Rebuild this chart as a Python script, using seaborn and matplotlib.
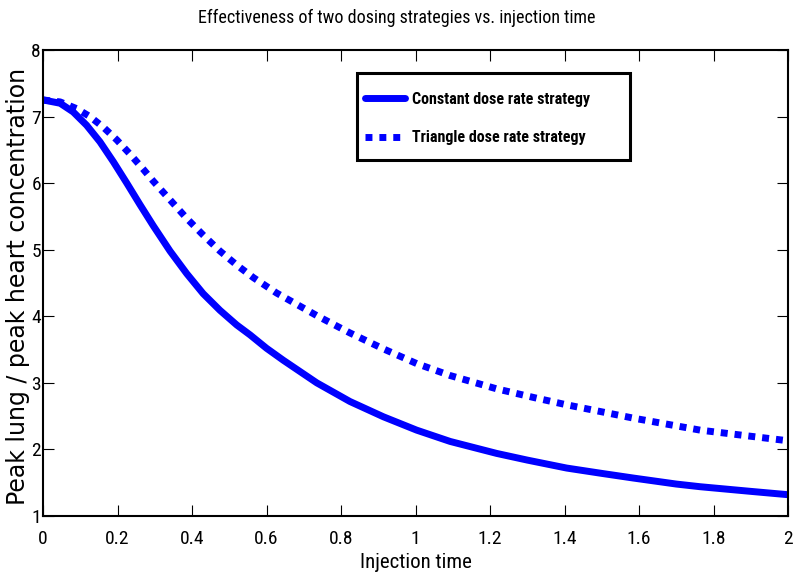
import matplotlib
matplotlib.use("Agg")
import matplotlib.pyplot as plt
from matplotlib.patches import Rectangle
import seaborn as sns
import pandas as pd

# Data
x_const = [0.0, 0.046, 0.081, 0.117, 0.153, 0.189, 0.225, 0.26, 0.296, 0.341, 0.386, 0.43,
           0.475, 0.52, 0.556, 0.60, 0.645, 0.735, 0.824, 0.914, 1.003, 1.093, 1.218, 1.30,
           1.406, 1.50, 1.585, 1.70, 1.764, 1.90, 2.0]
y_const = [7.25, 7.20, 7.07, 6.87, 6.62, 6.32, 6.00, 5.68, 5.36, 4.98, 4.64, 4.34,
           4.09, 3.87, 3.72, 3.52, 3.34, 3.00, 2.72, 2.49, 2.29, 2.12, 1.94, 1.84,
           1.72, 1.64, 1.57, 1.48, 1.44, 1.37, 1.32]

x_tri = [0.0, 0.046, 0.09, 0.126, 0.162, 0.198, 0.233, 0.269, 0.296, 0.336, 0.386, 0.43,
         0.475, 0.52, 0.565, 0.627, 0.735, 0.824, 0.914, 1.003, 1.093, 1.218, 1.325,
         1.406, 1.585, 1.764, 2.0]
y_tri = [7.25, 7.22, 7.12, 7.00, 6.84, 6.65, 6.44, 6.21, 6.03, 5.78, 5.47, 5.22,
         4.98, 4.77, 4.58, 4.35, 4.01, 3.75, 3.51, 3.29, 3.11, 2.91, 2.77,
         2.67, 2.47, 2.29, 2.13]

series_names = ["Constant dose rate strategy", "Triangle dose rate strategy"]
x_ticks = [0, 0.2, 0.4, 0.6, 0.8, 1, 1.2, 1.4, 1.6, 1.8, 2]
x_tick_labels = ["0", "0.2", "0.4", "0.6", "0.8", "1", "1.2", "1.4", "1.6", "1.8", "2"]
y_ticks = [1, 2, 3, 4, 5, 6, 7, 8]
y_tick_labels = ["1", "2", "3", "4", "5", "6", "7", "8"]

title = "Effectiveness of two dosing strategies vs. injection time"
xlabel = "Injection time"
ylabel = "Peak lung / peak heart concentration"

sns.set_style("ticks")
narrow = ["Roboto Condensed", "Liberation Sans", "DejaVu Sans"]
wide = ["DejaVu Sans"]
plt.rcParams["font.family"] = narrow
for k in ["text.color", "axes.labelcolor", "xtick.color", "ytick.color"]:
    plt.rcParams[k] = "black"

df = pd.concat([
    pd.DataFrame({"t": x_const, "v": y_const, "s": series_names[0]}),
    pd.DataFrame({"t": x_tri, "v": y_tri, "s": series_names[1]}),
], ignore_index=True)

fig = plt.figure(figsize=(7.93, 5.74), dpi=100)
ax = fig.add_axes([43 / 793, 1 - 516 / 574, 745 / 793, 466 / 574])

sns.lineplot(data=df, x="t", y="v", hue="s", style="s",
             palette=["#0000ff", "#0000ff"],
             dashes=[(None, None), (1, 1)],
             linewidth=5, ax=ax, legend=True, estimator=None, sort=False)

for line in ax.get_lines():
    line.set_dash_capstyle("butt")
    line.set_solid_joinstyle("round")

ax.set_xlim(0, 2)
ax.set_ylim(1, 8)
ax.set_xticks(x_ticks)
ax.set_xticklabels(x_tick_labels)
ax.set_yticks(y_ticks)
ax.set_yticklabels(y_tick_labels)
ax.tick_params(direction="in", length=8, width=0.8, top=True, right=True,
               labelsize=14, colors="black")
ax.tick_params(axis="x", pad=10)
ax.tick_params(axis="y", pad=1.5)
for sp in ax.spines.values():
    sp.set_visible(True)
    sp.set_color("black")
    sp.set_linewidth(1.5)

fig.text(396.5 / 793, 1 - 18 / 574, title, fontsize=13, ha="center", va="center")
ax.set_xlabel(xlabel, fontsize=15)
ax.xaxis.set_label_coords(0.5, -0.08)
ax.set_ylabel(ylabel, fontsize=17, family=wide)
ax.yaxis.set_label_coords(-0.0175, 0.492)

# legend frame (MATLAB-like thick black box)
ax.add_patch(Rectangle(((357 - 43) / 745, (516 - 160) / 466), 273 / 745, 87 / 466,
                       transform=ax.transAxes, facecolor="white", edgecolor="black",
                       linewidth=2.2, zorder=4, clip_on=False))
leg = ax.legend(loc="upper left", bbox_to_anchor=((365 - 43) / 745, (516 - 92) / 466),
                frameon=False, handlelength=2.5, borderpad=0, labelspacing=1.45,
                handletextpad=0.45, borderaxespad=0,
                prop={"family": narrow, "weight": "bold", "size": 11.5})
leg.set_zorder(5)
for h in leg.get_lines():
    h.set_linewidth(5)
    h.set_dash_capstyle("butt")

fig.savefig("out.png", dpi=100)
